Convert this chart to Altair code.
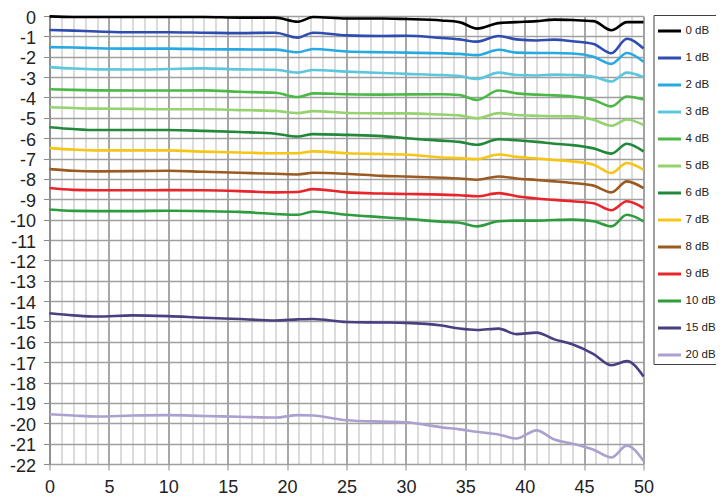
import altair as alt
import pandas as pd

X = [0, 2, 4, 7, 10, 13, 16, 19, 20.9, 22.2, 25, 28, 30, 33, 34.5, 36, 37.8, 39.3, 41, 42.5, 44, 45.8, 47.3, 48.6, 50]

SERIES = ["0 dB", "1 dB", "2 dB", "3 dB", "4 dB", "5 dB", "6 dB", "7 dB", "8 dB", "9 dB", "10 dB", "15 dB", "20 dB"]
COLORS = ["#000000", "#2f4db0", "#27a9e1", "#5cc6dc", "#4cb847", "#94d36e", "#23893a", "#f6c516",
          "#9b5a20", "#e8252b", "#2c9c3c", "#4a3f80", "#aba0cf"]

y0 = [-0.02, -0.05, -0.05, -0.05, -0.05, -0.05, -0.08, -0.08, -0.28, -0.05, -0.12, -0.12, -0.15, -0.22, -0.3, -0.62, -0.35, -0.3, -0.25, -0.18, -0.2, -0.25, -0.7, -0.3, -0.3]
y1 = [-0.69, -0.72, -0.76, -0.8, -0.8, -0.82, -0.84, -0.82, -1.06, -0.82, -0.95, -0.98, -0.97, -1.08, -1.15, -1.26, -0.98, -1.15, -1.2, -1.16, -1.24, -1.38, -1.83, -1.12, -1.6]
y2 = [-1.53, -1.55, -1.58, -1.6, -1.6, -1.63, -1.64, -1.65, -1.78, -1.62, -1.74, -1.78, -1.8, -1.83, -1.86, -1.92, -1.66, -1.8, -1.82, -1.82, -1.84, -2.0, -2.35, -1.82, -2.25]
y3 = [-2.51, -2.58, -2.62, -2.63, -2.6, -2.57, -2.62, -2.64, -2.78, -2.65, -2.73, -2.8, -2.84, -2.9, -2.95, -3.09, -2.78, -2.9, -2.92, -2.88, -2.9, -2.98, -3.22, -2.78, -3.0]
y4 = [-3.6, -3.63, -3.65, -3.66, -3.66, -3.65, -3.72, -3.77, -3.98, -3.8, -3.84, -3.86, -3.85, -3.84, -3.88, -4.12, -3.66, -3.8, -3.86, -3.9, -3.95, -4.12, -4.44, -3.95, -4.1]
y5 = [-4.48, -4.52, -4.55, -4.56, -4.58, -4.58, -4.62, -4.66, -4.77, -4.67, -4.76, -4.78, -4.78, -4.84, -4.88, -5.02, -4.77, -4.86, -4.9, -4.92, -4.93, -5.1, -5.39, -5.08, -5.35]
y6 = [-5.46, -5.55, -5.6, -5.6, -5.6, -5.64, -5.7, -5.78, -5.92, -5.8, -5.84, -5.9, -6.0, -6.12, -6.18, -6.32, -6.05, -6.1, -6.18, -6.27, -6.34, -6.5, -6.76, -6.27, -6.65]
y7 = [-6.49, -6.56, -6.6, -6.6, -6.6, -6.66, -6.7, -6.74, -6.74, -6.65, -6.74, -6.78, -6.8, -6.95, -6.98, -7.03, -6.8, -6.92, -7.0, -7.07, -7.14, -7.3, -7.71, -7.22, -7.55]
y8 = [-7.52, -7.6, -7.63, -7.62, -7.6, -7.65, -7.7, -7.75, -7.78, -7.7, -7.75, -7.85, -7.88, -7.94, -7.98, -8.04, -7.88, -7.98, -8.05, -8.12, -8.2, -8.33, -8.66, -8.12, -8.45]
y9 = [-8.45, -8.54, -8.56, -8.56, -8.55, -8.56, -8.6, -8.66, -8.64, -8.5, -8.66, -8.72, -8.74, -8.77, -8.8, -8.85, -8.7, -8.85, -8.96, -9.03, -9.1, -9.2, -9.54, -9.1, -9.43]
y10 = [-9.5, -9.57, -9.58, -9.58, -9.56, -9.58, -9.62, -9.72, -9.76, -9.6, -9.76, -9.88, -9.96, -10.1, -10.15, -10.33, -10.08, -10.05, -10.05, -10.02, -10.0, -10.08, -10.33, -9.76, -10.08]
y15 = [-14.6, -14.7, -14.76, -14.7, -14.74, -14.82, -14.88, -14.95, -14.9, -14.88, -15.03, -15.05, -15.07, -15.2, -15.35, -15.42, -15.35, -15.62, -15.55, -15.88, -16.12, -16.6, -17.15, -16.95, -17.7]
y20 = [-19.56, -19.62, -19.67, -19.62, -19.6, -19.64, -19.68, -19.72, -19.6, -19.62, -19.85, -19.92, -19.95, -20.2, -20.3, -20.42, -20.55, -20.75, -20.35, -20.8, -21.0, -21.3, -21.68, -21.1, -21.85]

ALL_Y = [y0, y1, y2, y3, y4, y5, y6, y7, y8, y9, y10, y15, y20]

rows = []
for name, ys in zip(SERIES, ALL_Y):
    for xv, yv in zip(X, ys):
        rows.append({"x": xv, "y": yv, "series": name})
df = pd.DataFrame(rows)

X_TICKS = list(range(0, 51))
Y_TICKS = list(range(-22, 1))
FONT = "Liberation Sans"

x_axis = alt.Axis(
    values=X_TICKS,
    title=None,
    grid=True,
    gridColor={"condition": {"test": "datum.value % 5 === 0", "value": "#8a8a8a"}, "value": "#c4c4c4"},
    gridWidth={"condition": {"test": "datum.value % 5 === 0", "value": 1.5}, "value": 1.2},
    ticks=True,
    tickSize=6,
    tickColor="#8a8a8a",
    tickOpacity={"condition": {"test": "datum.value % 5 === 0", "value": 1}, "value": 0},
    labelExpr="datum.value % 5 === 0 ? '' + datum.value : ''",
    labelFont=FONT,
    labelFontSize=18,
    labelColor="#222222",
    labelPadding=8,
    labelFlush=False,
    labelOverlap=False,
    domain=False,
)

y_axis = alt.Axis(
    values=Y_TICKS,
    title=None,
    grid=True,
    gridColor="#a0a0a0",
    gridWidth=1.6,
    ticks=True,
    tickSize=6,
    tickColor="#8a8a8a",
    labelExpr="'' + datum.value",
    labelFont=FONT,
    labelFontSize=18,
    labelColor="#222222",
    labelPadding=8,
    labelOffset=2,
    labelOverlap=False,
    domain=True,
    domainColor="#8a8a8a",
    domainWidth=1.5,
)

chart = alt.Chart(df).mark_line(strokeWidth=2.6, interpolate="monotone").encode(
    x=alt.X("x:Q", scale=alt.Scale(domain=[0, 50], nice=False, zero=False), axis=x_axis),
    y=alt.Y("y:Q", scale=alt.Scale(domain=[-22, 0], nice=False, zero=False), axis=y_axis),
    color=alt.Color(
        "series:N",
        scale=alt.Scale(domain=SERIES, range=COLORS),
        sort=SERIES,
        legend=alt.Legend(
            title=None,
            orient="none",
            legendX=604,
            legendY=-1,
            direction="vertical",
            symbolType="stroke",
            symbolSize=529,
            symbolStrokeWidth=3,
            labelFont=FONT,
            labelFontSize=11.5,
            labelColor="#222222",
            labelOffset=3,
            rowPadding=8,
            padding=3,
            strokeColor="#404040",
            fillColor="#ffffff",
        ),
    ),
    order=alt.Order("x:Q"),
).properties(
    width=594,
    height=448,
    autosize=alt.AutoSizeParams(type="none"),
    padding={"left": 41.5, "top": 8, "right": 72.5, "bottom": 31},
).configure_view(
    stroke="#555555",
    strokeWidth=1.5,
).configure(background="#ffffff")

chart.save("out.html", embed_options={"renderer": "svg", "actions": False})
